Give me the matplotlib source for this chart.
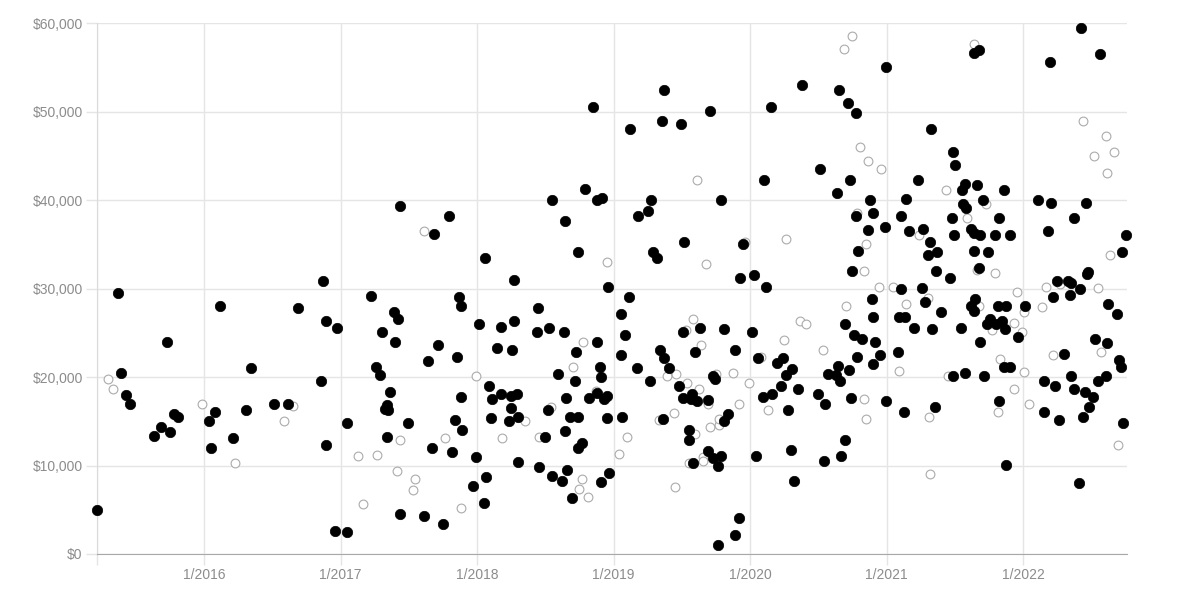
import pandas as pd
import matplotlib.pyplot as plt
from matplotlib.ticker import FuncFormatter

# values: decimal year, dollars
filled_year = [
    2015.368, 2016.117, 2016.691, 2016.892, 2016.972, 2015.731, 2016.342, 2016.857, 2015.390, 2015.426,
    2015.460, 2015.780, 2015.812, 2015.687, 2015.636, 2015.751, 2016.081, 2016.037, 2016.053, 2016.210,
    2016.308, 2016.515, 2016.613, 2017.048, 2016.892, 2015.216, 2016.955, 2017.048, 2016.867,
    2018.848, 2018.793, 2018.877, 2018.914, 2018.549, 2018.647, 2018.742, 2017.434, 2017.790, 2017.687,
    2018.061, 2018.269, 2018.962,
    2017.223, 2017.868, 2017.878, 2017.390, 2017.419, 2018.010, 2017.302, 2017.399, 2017.712, 2017.641,
    2017.851, 2018.176, 2018.269, 2018.447, 2018.440, 2018.525, 2018.637, 2018.881, 2018.725, 2018.147,
    2018.254, 2017.255, 2017.287, 2017.363, 2017.338, 2017.346, 2017.326, 2017.495, 2017.338, 2017.668,
    2017.819, 2017.990, 2017.837, 2017.888, 2017.881, 2018.090, 2018.112, 2018.176, 2018.251, 2018.291,
    2018.251, 2018.105, 2018.237, 2018.298, 2018.498, 2018.298, 2018.068, 2017.966, 2018.051, 2018.454,
    2018.549, 2018.621, 2018.662, 2018.698, 2018.908, 2018.969, 2017.434, 2017.607, 2017.749, 2018.593,
    2018.716, 2018.654, 2018.518, 2018.681, 2018.738, 2018.647, 2018.742, 2018.771, 2018.899, 2018.908,
    2018.818, 2018.877, 2018.950, 2018.928, 2018.950,
    2019.372, 2019.709, 2019.119, 2019.353, 2019.492, 2020.156, 2020.383, 2020.652, 2020.716, 2020.777,
    2020.513, 2020.733, 2020.635, 2020.103, 2019.275, 2019.251, 2019.179, 2019.790, 2019.519, 2019.946,
    2019.292, 2019.319, 2019.929, 2020.031, 2020.119, 2020.879, 2020.901, 2020.777, 2020.862, 2020.793,
    2020.749,
    2019.111, 2019.055, 2019.082, 2019.057, 2019.170, 2019.265, 2019.343, 2019.370, 2019.407, 2019.478,
    2019.509, 2019.634, 2019.597, 2019.731, 2019.744, 2019.807, 2020.017, 2019.892, 2019.511, 2019.573,
    2019.570, 2019.610, 2019.695, 2019.363, 2019.553, 2019.553, 2019.839, 2019.807, 2019.690, 2019.731,
    2019.790, 2019.768, 2019.580, 2020.042, 2019.919, 2019.892, 2019.763, 2019.064, 2020.061, 2020.200,
    2020.242, 2020.305, 2020.262, 2020.225, 2020.097, 2020.163, 2020.349, 2020.278, 2020.303, 2020.320,
    2020.496, 2020.549, 2020.540, 2020.669, 2020.691, 2020.571, 2020.628, 2020.657, 2020.645, 2020.723,
    2020.740, 2020.691, 2020.784, 2020.764, 2020.821, 2020.892, 2020.901, 2020.916, 2020.901,
    2020.994, 2021.641, 2021.675, 2022.198, 2022.425, 2022.564, 2021.324, 2021.482, 2021.502, 2021.231,
    2021.575, 2021.553, 2021.658, 2021.856, 2021.141, 2021.104, 2020.984, 2021.560, 2021.580, 2021.702,
    2021.475, 2021.822, 2021.160, 2021.265, 2021.617, 2021.641, 2021.683, 2021.495, 2021.795, 2021.903,
    2021.319, 2021.299, 2021.365, 2021.641, 2021.744, 2021.360, 2021.673, 2021.463, 2021.104, 2021.255,
    2022.110, 2022.207, 2022.459, 2022.371, 2022.181, 2022.757, 2022.723, 2022.474, 2022.467, 2022.251,
    2022.330, 2022.347, 2022.418,
    2020.952, 2021.282, 2021.092, 2021.130, 2021.201, 2021.331, 2021.394, 2021.079, 2021.544, 2021.614,
    2021.648, 2021.641, 2021.683, 2021.738, 2021.760, 2021.802, 2021.844, 2021.866, 2021.812, 2021.875,
    2022.015, 2021.963, 2021.856, 2021.900, 2021.489, 2021.570, 2021.716, 2020.994, 2021.123, 2021.350,
    2021.822, 2021.873, 2022.222, 2022.344, 2022.300, 2022.154, 2022.232, 2022.347, 2022.374, 2022.454,
    2022.515, 2022.486, 2022.442, 2022.154, 2022.266, 2022.547, 2022.608, 2022.530, 2022.618, 2022.625,
    2022.686, 2022.705, 2022.716, 2022.733, 2022.408,
]
filled_value = [
    29500, 28000, 27800, 26300, 25600, 24000, 21000, 19500, 20500, 18000,
    17000, 15800, 15500, 14300, 13300, 13800, 16000, 15000, 12000, 13100,
    16300, 17000, 17000, 14800, 12300, 5000, 2600, 2500, 30900,
    50500, 41300, 40000, 40200, 40000, 37600, 34100, 39300, 38200, 36200,
    33500, 31000, 30200,
    29200, 29100, 28000, 27400, 26600, 26000, 25100, 24000, 23600, 21800,
    22300, 25700, 26300, 27800, 25100, 25600, 25100, 24000, 22800, 23300,
    23100, 21100, 20200, 18300, 16800, 16300, 16400, 14800, 13200, 12000,
    11500, 11000, 15200, 14000, 17800, 19000, 17500, 18100, 17900, 18100,
    16500, 15400, 15000, 15500, 13200, 10400, 8700, 7700, 5800, 9800,
    8800, 8300, 9500, 6300, 8100, 9200, 4500, 4300, 3400, 20300,
    19600, 17600, 16300, 15500, 15500, 13900, 12000, 12500, 21100, 20000,
    17600, 18200, 17900, 17500, 15400,
    52500, 50100, 48100, 49000, 48600, 50500, 53000, 52500, 51000, 49800,
    43500, 42300, 40800, 42300, 40000, 38800, 38200, 40000, 35300, 35000,
    34100, 33500, 31200, 31500, 30200, 40000, 38500, 38200, 36600, 34300,
    32000,
    29100, 27100, 24800, 22500, 21000, 19600, 23100, 22100, 21000, 19000,
    25100, 25600, 22800, 20100, 19800, 25400, 25100, 23100, 17600, 18100,
    17500, 17300, 17400, 15300, 14000, 12900, 15800, 15000, 11600, 10900,
    11100, 10000, 10300, 11100, 4100, 2200, 1000, 15500, 22100, 21600,
    22100, 20900, 20200, 19000, 17800, 18100, 18600, 16300, 11800, 8300,
    18100, 16900, 10500, 11100, 12900, 20400, 20200, 19600, 21300, 20800,
    17600, 26000, 22300, 24800, 24300, 28800, 26800, 24000, 21500,
    55000, 56600, 57000, 55600, 59500, 56500, 48100, 45400, 44000, 42300,
    41800, 41100, 41700, 41100, 40100, 38200, 37000, 39600, 39100, 40000,
    38000, 38000, 36500, 36700, 36700, 36300, 36100, 36100, 36100, 36100,
    35300, 33800, 34100, 34300, 34100, 32000, 32300, 31200, 29900, 30100,
    40000, 39700, 39700, 38000, 36500, 36100, 34100, 31900, 31700, 30900,
    30900, 30600, 30000,
    22500, 28500, 26800, 26800, 25600, 25400, 27400, 22800, 25600, 28000,
    28800, 27500, 24000, 26000, 26600, 26000, 26300, 25400, 28000, 28000,
    28000, 24500, 21100, 21100, 20100, 20500, 20100, 17300, 16000, 16600,
    17300, 10100, 29100, 29300, 22600, 19500, 19000, 20100, 18700, 18300,
    17800, 16600, 15500, 16000, 15200, 19500, 20100, 24300, 23900, 28300,
    27100, 21900, 21100, 14800, 8000,
]

open_year = [
    2015.297, 2015.331, 2015.985, 2016.650, 2016.586, 2016.227, 2017.128, 2017.607, 2018.950, 2018.777,
    2018.705, 2017.990, 2018.352, 2018.183, 2018.452, 2018.544, 2018.870, 2017.431, 2017.766, 2017.267,
    2017.416, 2017.546, 2017.529, 2017.163, 2017.881, 2018.767, 2018.749, 2018.811, 2020.749, 2020.689,
    2020.801, 2020.862, 2019.614, 2019.966, 2020.262, 2019.675, 2020.784, 2020.845, 2020.835, 2019.580,
    2019.531, 2019.641, 2019.390, 2019.460, 2019.538, 2019.624, 2019.690, 2019.753, 2019.878, 2019.993,
    2019.922, 2019.441, 2019.335, 2019.709, 2019.773, 2019.773, 2019.595, 2019.101, 2019.040, 2019.551,
    2019.653, 2019.658, 2019.448, 2020.083, 2020.251, 2020.366, 2020.408, 2020.132, 2020.533, 2020.705,
    2020.835, 2020.845, 2021.641, 2022.440, 2022.608, 2022.669, 2022.520, 2022.615, 2021.434, 2021.729,
    2021.590, 2021.238, 2021.663, 2021.797, 2022.635, 2020.960, 2020.943, 2021.045, 2022.166, 2022.269,
    2022.547, 2021.954, 2021.143, 2021.302, 2021.092, 2021.448, 2021.306, 2021.316, 2021.675, 2021.771,
    2021.832, 2021.815, 2021.929, 2021.990, 2021.936, 2022.005, 2022.005, 2022.042, 2022.139, 2022.215,
    2022.571, 2022.694,
]
open_value = [
    19800, 18700, 17000, 16700, 15000, 10300, 11100, 36500, 33000, 24000,
    21100, 20100, 15000, 13100, 13200, 16600, 18400, 12900, 13100, 11200,
    9400, 8500, 7200, 5700, 5200, 8500, 7300, 6400, 58600, 57100,
    46000, 44400, 42300, 35300, 35600, 32800, 38500, 35000, 32000, 26600,
    25300, 23600, 20100, 20400, 19300, 18600, 16900, 20300, 20500, 19300,
    17000, 15900, 15200, 14300, 14600, 15300, 13600, 13200, 11300, 10300,
    11000, 10500, 7600, 22300, 24200, 26300, 26000, 16300, 23100, 28000,
    17500, 15300, 57600, 48900, 47300, 45500, 45000, 43100, 41100, 39600,
    38000, 36100, 32100, 31800, 33800, 43500, 30200, 30200, 30200, 30500,
    30100, 29600, 28300, 28900, 20700, 20100, 15500, 9000, 28000, 25300,
    22000, 16100, 26100, 25100, 18600, 27300, 20600, 16900, 27900, 22500,
    22800, 12300,
]

tick_years = [2016, 2017, 2018, 2019, 2020, 2021, 2022]


def to_date(d):
    y = int(d)
    start = pd.Timestamp(y, 1, 1)
    end = pd.Timestamp(y + 1, 1, 1)
    return start + (end - start) * (d - y)


filled_dates = [to_date(d) for d in filled_year]
open_dates = [to_date(d) for d in open_year]

grid_col = '#e5e5e5'
text_col = '#8c8c8c'
plt.rcParams['font.family'] = ['Liberation Sans', 'DejaVu Sans']

fig = plt.figure(figsize=(11.98, 5.96), dpi=100)
ax = fig.add_axes([0.0807, 0.0705, 0.8598, 0.8905])

ax.scatter(open_dates, open_value, s=40, facecolors='white', edgecolors='#ababab',
           linewidths=0.8, zorder=3, clip_on=False)
ax.scatter(filled_dates, filled_value, s=56, c='black', edgecolors='black',
           linewidths=0.5, zorder=4, clip_on=False)

xmin = pd.Timestamp('2015-03-20')
xmax = pd.Timestamp('2022-10-05')
ax.set_xlim(xmin, xmax)
ax.set_ylim(0, 60000)

xt = [xmin] + [pd.Timestamp(y, 1, 1) for y in tick_years]
ax.set_xticks(xt)
ax.set_xticklabels([''] + ['1/%d' % y for y in tick_years])
ax.set_yticks(range(0, 60001, 10000))
ax.yaxis.set_major_formatter(FuncFormatter(lambda v, p: '${:,.0f}'.format(v)))

ax.grid(True, color=grid_col, linewidth=1, zorder=0)
ax.set_axisbelow(True)
ax.tick_params(axis='both', length=8, width=1, color=grid_col, labelcolor=text_col,
               labelsize=10, pad=2)

for s in ['top', 'right']:
    ax.spines[s].set_visible(False)
ax.spines['left'].set_color('#dadada')
ax.spines['bottom'].set_color('#a8a8a8')

plt.savefig('out.png', dpi=100)
